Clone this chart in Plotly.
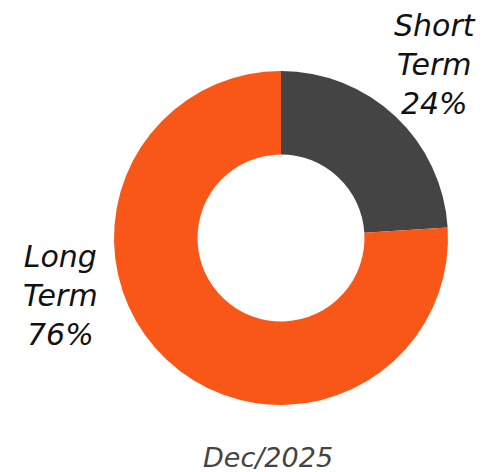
import plotly.graph_objects as go

# Portfolio split by term
labels = ["Short Term", "Long Term"]
values = [24, 76]
colors = ["#444444", "#F95718"]
period = "Dec/2025"

W, H = 482, 472

fig = go.Figure(
    go.Pie(
        labels=labels,
        values=values,
        hole=0.5,
        sort=False,
        direction="clockwise",
        rotation=0,
        marker=dict(colors=colors, line=dict(width=0)),
        textinfo="none",
        hoverinfo="label+percent",
        showlegend=False,
        domain=dict(x=[114 / W, 448 / W], y=[(H - 405) / H, (H - 71) / H]),
    )
)

label_font = dict(family="DejaVu Sans, sans-serif", size=30, color="#111111", style="italic")
total = sum(values)


def label_text(name, val):
    first, second = name.split(" ")
    return f"{first}<br>{second}<br>{round(val / total * 100)}%"


# label anchor points (pixels)
anchors = [(435, 65), (60, 295)]
for name, val, (px, py) in zip(labels, values, anchors):
    fig.add_annotation(
        x=px / W, y=1 - py / H, xref="paper", yref="paper",
        text=label_text(name, val), showarrow=False,
        font=label_font, align="center", xanchor="center", yanchor="middle",
    )

fig.add_annotation(
    x=268 / W, y=1 - 457 / H, xref="paper", yref="paper",
    text=period, showarrow=False,
    font=dict(family="DejaVu Sans, sans-serif", size=27, color="#444444", style="italic"),
    xanchor="center", yanchor="middle",
)

fig.update_layout(
    width=W, height=H,
    margin=dict(l=0, r=0, t=0, b=0),
    paper_bgcolor="white", plot_bgcolor="white",
)

fig.write_html("out.html")
